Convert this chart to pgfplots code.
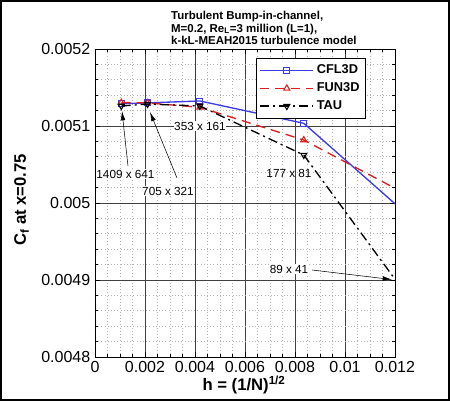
\documentclass[border=0pt]{standalone}
\usepackage{pgfplots}
\pgfplotsset{compat=1.18}
\usepackage{fontspec}
\setmainfont{Liberation Sans}
\usetikzlibrary{arrows.meta}

\definecolor{cflblue}{RGB}{60,60,230}
\definecolor{funred}{RGB}{220,30,30}

\begin{document}
\begin{tikzpicture}
\begin{axis}[
    at={(0,0)}, anchor=south west,
    scale only axis,
    width=225pt, height=231pt,
    xmin=0, xmax=0.012,
    ymin=0.0048, ymax=0.0052,
    scaled ticks=false,
    xtick={0,0.002,0.004,0.006,0.008,0.010,0.012},
    xticklabels={0,0.002,0.004,0.006,0.008,0.01,0.012},
    ytick={0.0048,0.0049,0.0050,0.0051,0.0052},
    yticklabels={0.0048,0.0049,0.005,0.0051,0.0052},
    minor x tick num=3,
    minor y tick num=4,
    grid=both,
    major grid style={black!75, line width=0.5pt},
    minor grid style={gray!60, dotted, line width=0.5pt},
    axis line style={black, line width=0.7pt},
    major tick length=3.5pt, minor tick length=2pt,
    tick style={black, line width=0.5pt},
    tick label style={font=\fontsize{12}{14}\selectfont},
    /pgf/number format/assume math mode=true,
    xlabel={\bfseries h = (1/N)\textsuperscript{1/2}},
    ylabel={\bfseries C\textsubscript{f} at x=0.75},
    xlabel style={font=\fontsize{12.5}{14}\selectfont, at={(axis description cs:0.497,-0.09)}, anchor=center},
    ylabel style={font=\fontsize{12.5}{14}\selectfont, at={(axis description cs:-0.245,0.51)}, anchor=center},
    clip mode=individual,
    clip marker paths=true,
    legend style={
        at={(axis description cs:0.903,0.971)}, anchor=north east,
        font=\bfseries\fontsize{9.6}{11}\selectfont,
        draw=black, line width=0.6pt,
        inner xsep=2.5pt, inner ysep=3pt,
        row sep=1.2pt,
        cells={anchor=west},
    },
    legend image code/.code={
        \draw[mark repeat=2,mark phase=2,#1] plot coordinates {(0pt,0pt) (20pt,0pt) (40pt,0pt)};
    },
]
% CFL3D
\addplot[color=cflblue, line width=1pt, mark=square, mark size=2.2pt, mark options={solid, line width=0.8pt}]
coordinates {
    (0.001052, 0.0051290)
    (0.002102, 0.0051300)
    (0.004195, 0.0051325)
    (0.008352, 0.0051035)
    (0.016554, 0.0048686)
};
\addlegendentry{CFL3D}
% FUN3D
\addplot[color=funred, line width=1pt, dash pattern=on 7pt off 4.5pt, mark=triangle, mark size=2.6pt, mark options={solid, line width=0.8pt}]
coordinates {
    (0.001052, 0.0051305)
    (0.002102, 0.0051300)
    (0.004195, 0.0051243)
    (0.008352, 0.0050818)
    (0.016554, 0.0049409)
};
\addlegendentry{FUN3D}
% TAU
\addplot[color=black, line width=1pt, dash pattern=on 7pt off 3pt on 1.5pt off 3pt, mark=triangle, mark size=2.6pt, mark options={solid, rotate=180, line width=0.8pt}]
coordinates {
    (0.001052, 0.0051260)
    (0.002102, 0.0051285)
    (0.004195, 0.0051260)
    (0.008352, 0.0050623)
    (0.016554, 0.0046996)
};
\addlegendentry{TAU}

% grid-size annotations
\node[font=\fontsize{8.8}{10}\selectfont, fill=white, inner sep=0.5pt] at (axis cs:0.00122,0.0050377) {1409 x 641};
\draw[line width=0.4pt, -{Latex[length=7pt,width=3.5pt]}] (axis cs:0.00132,0.0050480) -- (axis cs:0.00108,0.0051195);
\node[font=\fontsize{8.8}{10}\selectfont, fill=white, inner sep=0.5pt] at (axis cs:0.00292,0.0050156) {705 x 321};
\draw[line width=0.4pt, -{Latex[length=7pt,width=3.5pt]}] (axis cs:0.00328,0.0050325) -- (axis cs:0.00220,0.0051182);
\node[font=\fontsize{8.8}{10}\selectfont, fill=white, inner sep=0.5pt] at (axis cs:0.0042,0.0051) {353 x 161};
\node[font=\fontsize{8.8}{10}\selectfont, inner sep=0.5pt] at (axis cs:0.00776,0.005039) {177 x 81};
\node[font=\fontsize{8.8}{10}\selectfont, fill=white, inner sep=0.5pt] at (axis cs:0.00776,0.0049143) {89 x 41};
\draw[line width=0.4pt, -{Latex[length=7pt,width=3.5pt]}] (axis cs:0.00868,0.0049130) -- (axis cs:0.01188,0.0049006);

% title
\node[anchor=south west, align=left, inner sep=0pt, font=\bfseries\fontsize{8.6}{9.5}\selectfont]
    at (axis description cs:0.253,1.012)
    {Turbulent Bump-in-channel,\\M=0.2, Re\textsubscript{L}=3 million (L=1),\\k-kL-MEAH2015 turbulence model};
\end{axis}
\pgfresetboundingbox
\useasboundingbox (-71.25pt,-33pt) rectangle (266.25pt,267.75pt);
\draw[line width=1.5pt] (-70.5pt,-32.25pt) rectangle (265.5pt,267pt);
\end{tikzpicture}
\end{document}
